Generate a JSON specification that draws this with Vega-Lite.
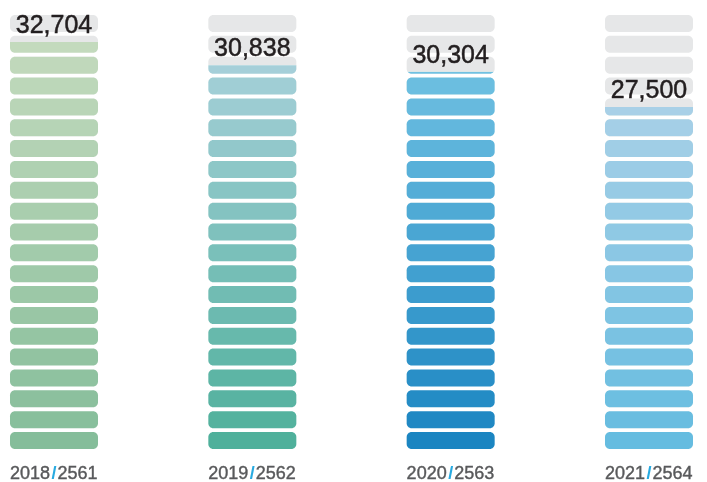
{
  "$schema": "https://vega.github.io/schema/vega-lite/v6.json",
  "width": 707,
  "height": 482,
  "autosize": "none",
  "padding": 0,
  "background": "white",
  "config": {"view": {"stroke": null}, "font": "Liberation Sans"},
  "datasets": {
    "years": [
      {"year": "2018", "be": "2561", "value": 32704, "label": "32,704", "segs": [1,2,3,4,5,6,7,8,9,10,11,12,13,14,15,16,17,18,19,20,21]},
      {"year": "2019", "be": "2562", "value": 30838, "label": "30,838", "segs": [1,2,3,4,5,6,7,8,9,10,11,12,13,14,15,16,17,18,19,20,21]},
      {"year": "2020", "be": "2563", "value": 30304, "label": "30,304", "segs": [1,2,3,4,5,6,7,8,9,10,11,12,13,14,15,16,17,18,19,20,21]},
      {"year": "2021", "be": "2564", "value": 27500, "label": "27,500", "segs": [1,2,3,4,5,6,7,8,9,10,11,12,13,14,15,16,17,18,19,20,21]}
    ]
  },
  "data": {"name": "years"},
  "encoding": {
    "x": {"field": "year", "type": "nominal", "axis": null, "scale": {"range": [10, 693], "paddingInner": 0.5563, "paddingOuter": 0}}
  },
  "layer": [
    {
      "transform": [{"flatten": ["segs"]}, {"filter": "datum.year == '2018'"}],
      "mark": {"type": "rect", "cornerRadius": 5},
      "encoding": {
        "y": {"field": "segs", "type": "ordinal", "sort": "descending", "axis": null, "scale": {"range": [15, 449], "paddingInner": 0.185, "paddingOuter": 0}},
        "color": {"field": "segs", "type": "quantitative", "legend": null, "scale": {"domain": [1, 20], "range": ["#85bd9a", "#c3dabd"], "interpolate": "rgb"}}
      }
    },
    {
      "transform": [{"flatten": ["segs"]}, {"filter": "datum.year == '2019'"}],
      "mark": {"type": "rect", "cornerRadius": 5},
      "encoding": {
        "y": {"field": "segs", "type": "ordinal", "sort": "descending", "axis": null, "scale": {"range": [15, 449], "paddingInner": 0.185, "paddingOuter": 0}},
        "color": {"field": "segs", "type": "quantitative", "legend": null, "scale": {"domain": [1, 20], "range": ["#4fb09b", "#aad1dc"], "interpolate": "rgb"}}
      }
    },
    {
      "transform": [{"flatten": ["segs"]}, {"filter": "datum.year == '2020'"}],
      "mark": {"type": "rect", "cornerRadius": 5},
      "encoding": {
        "y": {"field": "segs", "type": "ordinal", "sort": "descending", "axis": null, "scale": {"range": [15, 449], "paddingInner": 0.185, "paddingOuter": 0}},
        "color": {"field": "segs", "type": "quantitative", "legend": null, "scale": {"domain": [1, 19], "range": ["#1b85c1", "#70c1e2"], "interpolate": "rgb"}}
      }
    },
    {
      "transform": [{"flatten": ["segs"]}, {"filter": "datum.year == '2021'"}],
      "mark": {"type": "rect", "cornerRadius": 5},
      "encoding": {
        "y": {"field": "segs", "type": "ordinal", "sort": "descending", "axis": null, "scale": {"range": [15, 449], "paddingInner": 0.185, "paddingOuter": 0}},
        "color": {"field": "segs", "type": "quantitative", "legend": null, "scale": {"domain": [1, 17], "range": ["#65bce0", "#a8d0e7"], "interpolate": "rgb"}}
      }
    },
    {
      "mark": {"type": "bar", "width": 98, "color": "white"},
      "encoding": {
        "y": {"field": "value", "type": "quantitative", "axis": null, "scale": {"domain": [0, 35000], "range": [450.925, 13.075], "zero": false, "nice": false}},
        "y2": {"datum": 36500}
      }
    },
    {
      "transform": [{"flatten": ["segs"]}],
      "mark": {"type": "rect", "cornerRadius": 5, "color": "#e6e7e8", "blend": "darken"},
      "encoding": {
        "y": {"field": "segs", "type": "ordinal", "sort": "descending", "axis": null, "scale": {"range": [15, 449], "paddingInner": 0.185, "paddingOuter": 0}}
      }
    },
    {
      "mark": {"type": "text", "fontSize": 25, "color": "#231f20", "stroke": "#231f20", "strokeWidth": 0.5, "align": "center", "baseline": "alphabetic", "dy": -9},
      "encoding": {
        "y": {"field": "value", "type": "quantitative", "axis": null, "scale": {"domain": [0, 35000], "range": [450.925, 13.075], "zero": false, "nice": false}},
        "text": {"field": "label"}
      }
    },
    {
      "mark": {"type": "text", "fontSize": 18, "color": "#58595b", "stroke": "#58595b", "strokeWidth": 0.4, "align": "right", "baseline": "alphabetic", "dx": -4, "dy": 28.5},
      "encoding": {
        "y": {"datum": 0, "type": "quantitative", "axis": null, "scale": {"domain": [0, 35000], "range": [450.925, 13.075], "zero": false, "nice": false}},
        "text": {"field": "year"}
      }
    },
    {
      "mark": {"type": "text", "fontSize": 18, "fontWeight": "bold", "color": "#27aae1", "align": "center", "baseline": "alphabetic", "dy": 28.5, "text": "/"},
      "encoding": {
        "y": {"datum": 0, "type": "quantitative", "axis": null, "scale": {"domain": [0, 35000], "range": [450.925, 13.075], "zero": false, "nice": false}}
      }
    },
    {
      "mark": {"type": "text", "fontSize": 18, "color": "#58595b", "stroke": "#58595b", "strokeWidth": 0.4, "align": "left", "baseline": "alphabetic", "dx": 3.5, "dy": 28.5},
      "encoding": {
        "y": {"datum": 0, "type": "quantitative", "axis": null, "scale": {"domain": [0, 35000], "range": [450.925, 13.075], "zero": false, "nice": false}},
        "text": {"field": "be"}
      }
    }
  ],
  "resolve": {"scale": {"y": "independent", "color": "independent"}}
}
